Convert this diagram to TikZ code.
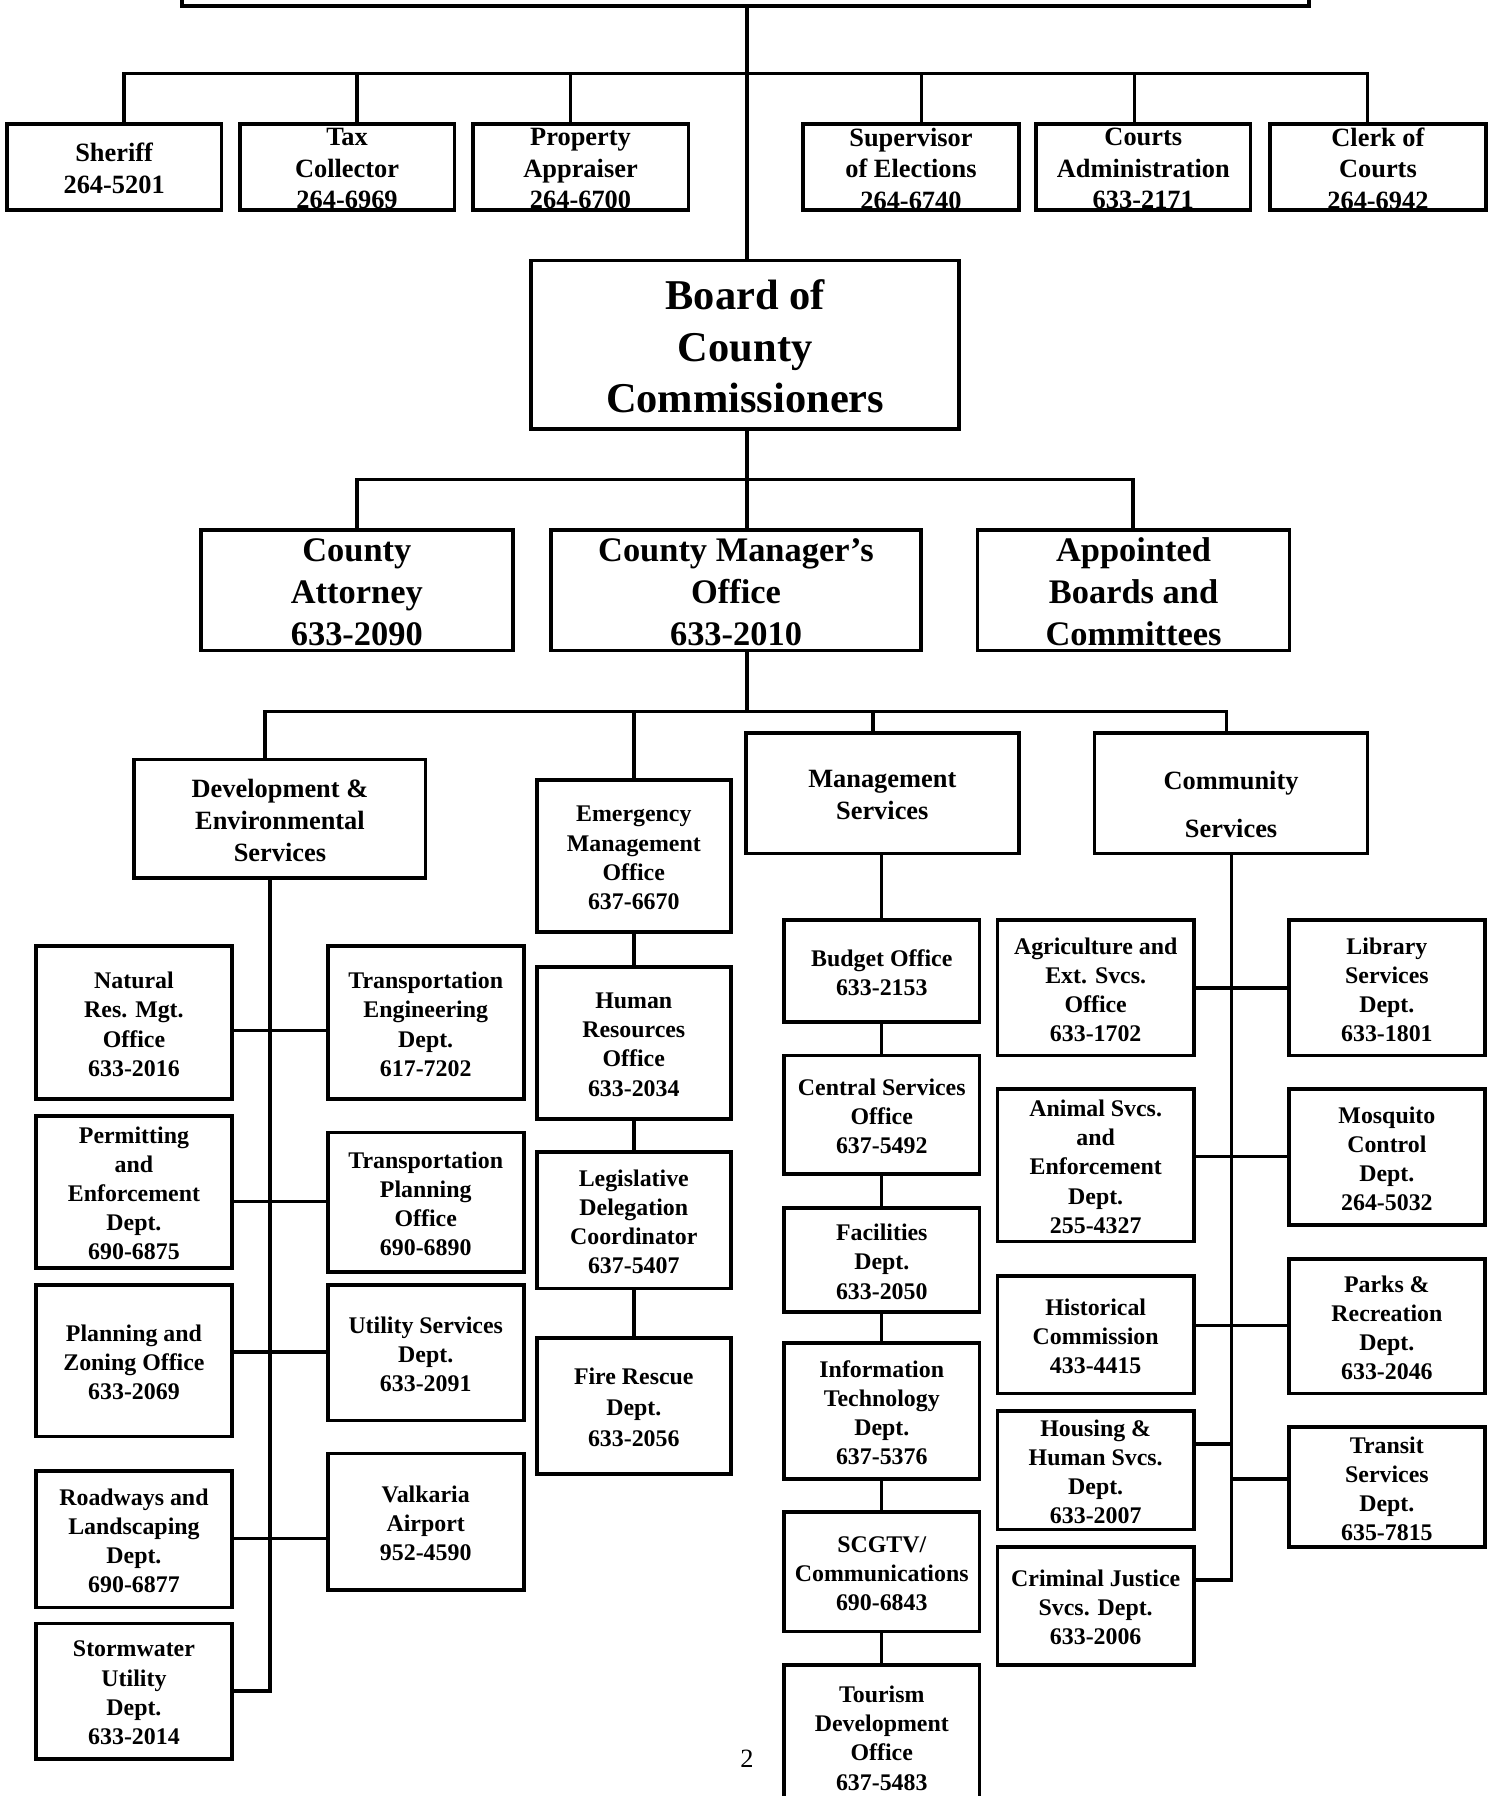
\documentclass[tikz,border=0pt]{standalone}
\usepackage{fontspec}
\setmainfont{Liberation Serif}
\usetikzlibrary{fit}
\newcommand\fsA{\fontsize{20.8}{25.4}\selectfont\bfseries}
\newcommand\fsB{\fontsize{23}{27.6}\selectfont\bfseries}
\newcommand\fsC{\fontsize{30}{36.5}\selectfont\bfseries}
\newcommand\fsD{\fontsize{37}{45}\selectfont\bfseries}
\tikzset{
  box/.style={draw, line width=3.2pt, inner sep=0pt},
  txt/.style={align=center, inner sep=0pt, yshift=-1.5pt},
  conn/.style={line width=3pt},
}
\newcommand\bx[7]{%
  \node[box, fit={(#2,#3) (#4,#5)}] (#1) {};
  \node[txt, #6] (#1t) at (#1.center) {#7};}
\begin{document}
\begin{tikzpicture}[x=1pt,y=-1pt]
\useasboundingbox (0,0) rectangle (1303,1565.4);
\clip (0,0) rectangle (1303,1565.4);
% top box (cut off)
\bx{topb}{158.5}{-40}{1141}{5}{}{}
% row 1
\bx{sh}{6}{108}{193}{183}{font=\fsB}{Sheriff\\264-5201}
\bx{tx}{209}{108}{396}{183}{font=\fsB}{Tax\\Collector\\264-6969}
\bx{pa}{412}{108}{600}{183}{font=\fsB}{Property\\Appraiser\\264-6700}
\bx{se}{700}{108}{888}{183}{font=\fsB}{Supervisor\\of Elections\\264-6740}
\bx{cad}{903}{108}{1090}{183}{font=\fsB}{Courts\\Administration\\633-2171}
\bx{clk}{1107}{108}{1295}{183}{font=\fsB}{Clerk of\\Courts\\264-6942}
% board
\bx{bos}{463}{227}{836}{374}{font=\fsD}{Board of\\County\\Commissioners}
% county row
\bx{ca}{175}{462}{447}{567}{font=\fsC}{County\\Attorney\\633-2090}
\bx{cm}{480}{462}{803}{567}{font=\fsC}{County Manager’s\\Office\\633-2010}
\bx{ab}{852}{462}{1124}{567}{font=\fsC}{Appointed\\Boards and\\Committees}
% departments
\bx{dev}{117}{662}{371}{765}{font=\fsB}{Development \&\\Environmental\\Services}
\bx{em}{467.8}{680}{637}{812.6}{font=\fsA}{Emergency\\Management\\Office\\637-6670}
\bx{ms}{650}{639}{888}{744}{font=\fsB}{Management\\Services}
\bx{com}{954}{639}{1192}{744}{font=\fsB, yshift=-8pt}{Community\\[14pt]Services}
% development column
\bx{nr}{31.3}{824.5}{202.2}{958}{font=\fsA}{Natural\\Res. Mgt.\\Office\\633-2016}
\bx{pe}{31.3}{972.5}{202.2}{1105}{font=\fsA}{Permitting\\and\\Enforcement\\Dept.\\690-6875}
\bx{pz}{31.3}{1120}{202.2}{1252}{font=\fsA}{Planning and\\Zoning Office\\633-2069}
\bx{rl}{31.3}{1282}{202.2}{1401}{font=\fsA}{Roadways and\\Landscaping\\Dept.\\690-6877}
\bx{sw}{31.3}{1415}{202.2}{1533}{font=\fsA}{Stormwater\\Utility\\Dept.\\633-2014}
\bx{te}{285.6}{824.5}{456.5}{958}{font=\fsA}{Transportation\\Engineering\\Dept.\\617-7202}
\bx{tp}{285.6}{987}{456.5}{1108.4}{font=\fsA}{Transportation\\Planning\\Office\\690-6890}
\bx{us}{285.6}{1120}{456.5}{1238}{font=\fsA}{Utility Services\\Dept.\\633-2091}
\bx{va}{285.6}{1267}{456.5}{1386}{font=\fsA}{Valkaria\\Airport\\952-4590}
% emergency column
\bx{hr}{467.8}{842.6}{637}{975.5}{font=\fsA}{Human\\Resources\\Office\\633-2034}
\bx{lg}{467.8}{1004}{637}{1123}{font=\fsA}{Legislative\\Delegation\\Coordinator\\637-5407}
\bx{fr}{467.8}{1166}{637}{1284.5}{font=\fsA}{Fire Rescue\\[1.5pt]Dept.\\[1.5pt]633-2056}
% management column
\bx{bud}{683.5}{802}{853.6}{890.5}{font=\fsA}{Budget Office\\633-2153}
\bx{cs}{683.5}{920}{853.6}{1023}{font=\fsA}{Central Services\\Office\\637-5492}
\bx{fac}{683.5}{1053}{853.6}{1143.6}{font=\fsA}{Facilities\\Dept.\\633-2050}
\bx{it}{683.5}{1170.6}{853.6}{1289}{font=\fsA}{Information\\Technology\\Dept.\\637-5376}
\bx{sc}{683.5}{1318}{853.6}{1422}{font=\fsA}{SCGTV/\\Communications\\690-6843}
\bx{tou}{683.5}{1451}{853.6}{1576}{font=\fsA}{Tourism\\Development\\Office\\637-5483}
% community inner column
\bx{ag}{869.5}{802}{1040.5}{920}{font=\fsA}{Agriculture and\\Ext. Svcs.\\Office\\633-1702}
\bx{an}{869.5}{949}{1040.5}{1082}{font=\fsA}{Animal Svcs.\\and\\Enforcement\\Dept.\\255-4327}
\bx{hc}{869.5}{1112}{1040.5}{1214.7}{font=\fsA}{Historical\\Commission\\433-4415}
\bx{hs}{869.5}{1230}{1040.5}{1333}{font=\fsA}{Housing \&\\Human Svcs.\\Dept.\\633-2007}
\bx{cj}{869.5}{1348.5}{1040.5}{1451}{font=\fsA}{Criminal Justice\\Svcs. Dept.\\633-2006}
% community outer column
\bx{lib}{1123.3}{802}{1294.3}{920}{font=\fsA}{Library\\Services\\Dept.\\633-1801}
\bx{mq}{1123.3}{949}{1294.3}{1067.7}{font=\fsA}{Mosquito\\Control\\Dept.\\264-5032}
\bx{pr}{1123.3}{1097.4}{1294.3}{1214.7}{font=\fsA}{Parks \&\\Recreation\\Dept.\\633-2046}
\bx{tr}{1123.3}{1244}{1294.3}{1348.4}{font=\fsA}{Transit\\Services\\Dept.\\635-7815}
% page number
\node[font=\fontsize{23}{27}\selectfont, inner sep=0pt] (pg) at (651,1533) {2};

% ---------- connectors ----------
% top level
\coordinate (t0) at (651,64);
\draw[conn] (t0 |- topb.south) -- (t0 |- bos.north);
\coordinate (d1) at (108,64);
\coordinate (d2) at (311,64);
\coordinate (d3) at (497,64);
\coordinate (d4) at (803,64);
\coordinate (d5) at (989,64);
\coordinate (d6) at (1192,64);
\draw[conn] (d1 |- sh.north) -- (d1) -- (d6) -- (d6 |- clk.north);
\draw[conn] (d2) -- (d2 |- tx.north);
\draw[conn] (d3) -- (d3 |- pa.north);
\draw[conn] (d4) -- (d4 |- se.north);
\draw[conn] (d5) -- (d5 |- cad.north);
% board to county row
\coordinate (e1) at (311,418);
\coordinate (e2) at (651,418);
\coordinate (e3) at (987.5,418);
\draw[conn] (e1 |- ca.north) -- (e1) -- (e3) -- (e3 |- ab.north);
\draw[conn] (e2 |- bos.south) -- (e2 |- cm.north);
% manager to departments
\coordinate (f1) at (231,620);
\coordinate (f2) at (552.5,620);
\coordinate (f3) at (651,620);
\coordinate (f4) at (761,620);
\coordinate (f5) at (1069,620);
\draw[conn] (f1 |- dev.north) -- (f1) -- (f5) -- (f5 |- com.north);
\draw[conn] (f3 |- cm.south) -- (f3);
\draw[conn] (f2) -- (f2 |- em.north);
\draw[conn] (f4) -- (f4 |- ms.north);
% development spine
\coordinate (g0) at (235.5,1474);
\draw[conn] (g0 |- dev.south) -- (g0) -- (sw.east |- g0);
\coordinate (h1) at (235.5,898.4);
\coordinate (h2) at (235.5,1047);
\coordinate (h3) at (235.5,1178.5);
\coordinate (h4) at (235.5,1341);
\draw[conn] (nr.east |- h1) -- (te.west |- h1);
\draw[conn] (pe.east |- h2) -- (tp.west |- h2);
\draw[conn] (pz.east |- h3) -- (us.west |- h3);
\draw[conn] (rl.east |- h4) -- (va.west |- h4);
% emergency chain
\draw[conn] (em.south) -- (hr.north);
\draw[conn] (hr.south) -- (lg.north);
\draw[conn] (lg.south) -- (fr.north);
% management chain
\draw[conn] (bud.north |- ms.south) -- (bud.north);
\draw[conn] (bud.south) -- (cs.north);
\draw[conn] (cs.south) -- (fac.north);
\draw[conn] (fac.south) -- (it.north);
\draw[conn] (it.south) -- (sc.north);
\draw[conn] (sc.south) -- (tou.north);
% community spine
\coordinate (k0) at (1073.5,1377);
\draw[conn] (k0 |- com.south) -- (k0) -- (cj.east |- k0);
\coordinate (k1) at (1073.5,861);
\coordinate (k2) at (1073.5,1008);
\coordinate (k3) at (1073.5,1155.5);
\coordinate (k4) at (1073.5,1258.6);
\coordinate (k5) at (1073.5,1289);
\draw[conn] (ag.east |- k1) -- (lib.west |- k1);
\draw[conn] (an.east |- k2) -- (mq.west |- k2);
\draw[conn] (hc.east |- k3) -- (pr.west |- k3);
\draw[conn] (hs.east |- k4) -- (k4);
\draw[conn] (k5) -- (tr.west |- k5);
\end{tikzpicture}
\end{document}
